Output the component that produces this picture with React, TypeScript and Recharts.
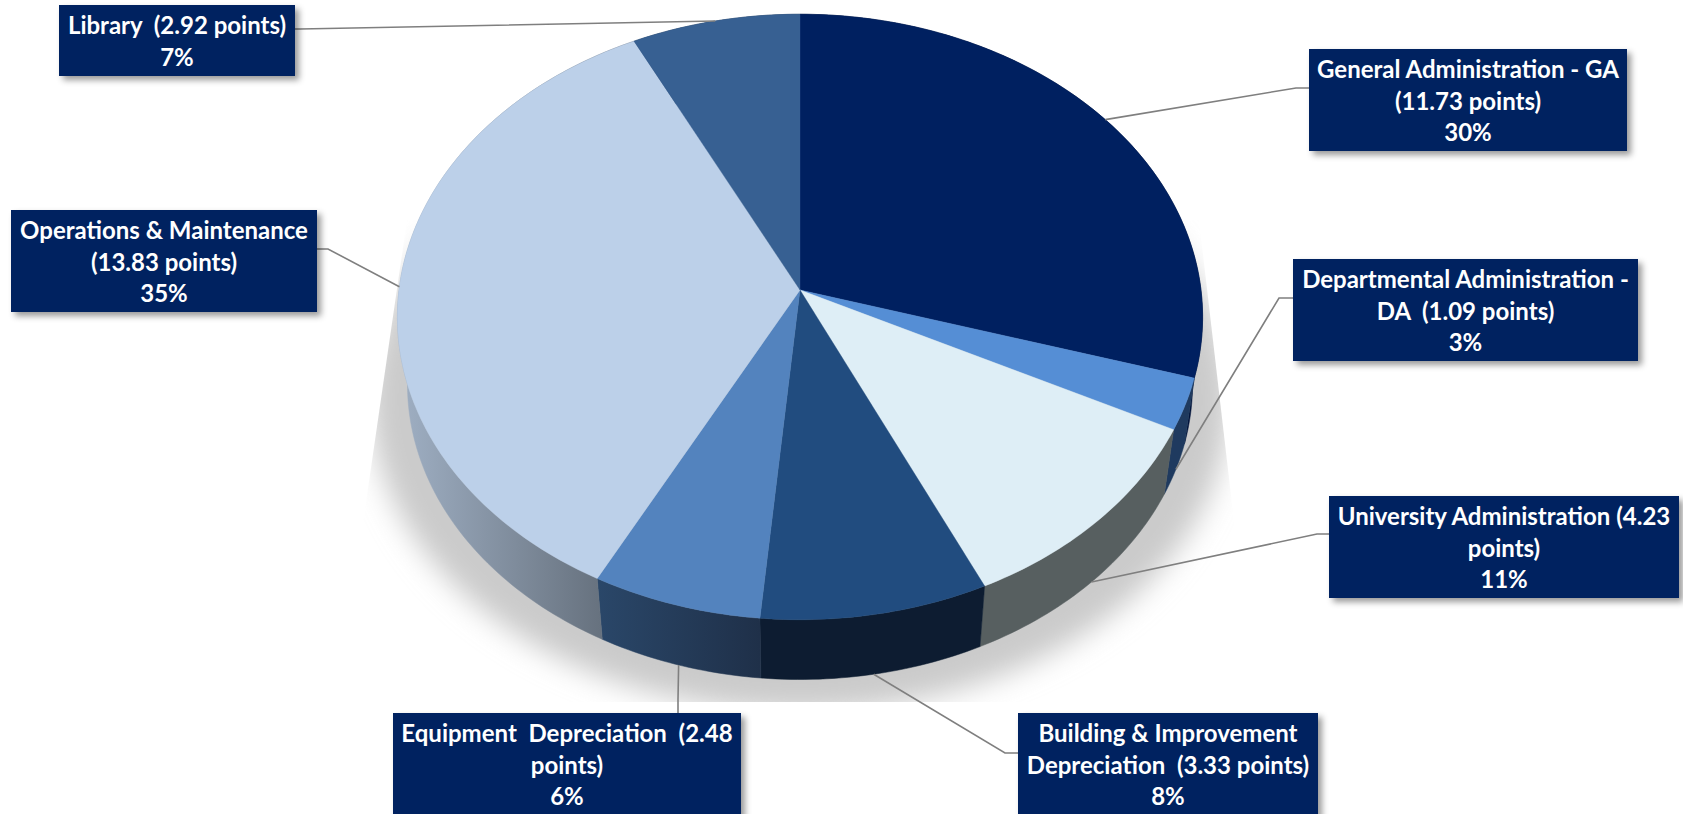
import { Pie, PieChart } from 'recharts'

// values
const names = [
  'General Administration',
  'Departmental Administration',
  'University Administration',
  'Building & Improvement Depreciation',
  'Equipment Depreciation',
  'Operations & Maintenance',
  'Library',
]
const points = [11.73, 1.09, 4.23, 3.33, 2.48, 13.83, 2.92]
const labelLines = [
  ['General Administration - GA', '(11.73 points)', '30%'],
  ['Departmental Administration -', 'DA  (1.09 points)', '3%'],
  ['University Administration (4.23', 'points)', '11%'],
  ['Building & Improvement', 'Depreciation  (3.33 points)', '8%'],
  ['Equipment  Depreciation  (2.48', 'points)', '6%'],
  ['Operations & Maintenance', '(13.83 points)', '35%'],
  ['Library  (2.92 points)', '7%'],
]

const topColors = ['#002060', '#558ed5', '#deeef6', '#214c7f', '#5383be', '#bcd0e9', '#376092']
const wallColors = ['#00133a', '#1f3a5f', '#575f60', '#0d1c31', 'url(#wallEquip)', 'url(#wallOps)', '#213a58']

// left, top, width, height of the label boxes, then the elbow of each leader line
const boxes = [
  [1309, 49, 318, 102],
  [1293, 259, 345, 102],
  [1329, 496, 350, 102],
  [1018, 713, 300, 110],
  [393, 713, 348, 110],
  [11, 210, 306, 102],
  [59, 5, 236, 71],
]
const leaderStarts = [
  [[1309, 88], [1296, 88]],
  [[1293, 298], [1279, 298]],
  [[1329, 534], [1317, 534]],
  [[1018, 753], [1005, 753]],
  [[678, 713], [678, 700]],
  [[317, 249], [328, 249]],
  [[295, 29], [300, 29]],
]

const rows = names.map((name, i) => ({ name, value: points[i] }))

const CX = 800
const CY = 290
const RADIUS = 401
const TILT = 0.749 // vertical squash of the disc
const PERSP = 0.0891 // front of the disc looks bigger than the back
const DEPTH = 68 // how far the bottom face sits under the top one
const BOTTOM_SCALE = 0.975
const RAD = Math.PI / 180

// recharts angle (degrees) to a point on the rim of the tilted disc
function rim(angle: number, r: number, lower: boolean) {
  const u = Math.cos(angle * RAD)
  const s = -Math.sin(angle * RAD)
  const w = 1 - PERSP * s
  const k = lower ? BOTTOM_SCALE : 1
  return {
    x: CX + (k * r * u) / w,
    y: CY + (lower ? DEPTH : 0) + (k * r * TILT * s) / w,
  }
}

function arc(from: number, to: number, r: number, lower: boolean) {
  const steps = Math.max(2, Math.ceil(Math.abs(to - from)))
  const pts = []
  for (let i = 0; i <= steps; i++) {
    const p = rim(from + ((to - from) * i) / steps, r, lower)
    pts.push(`${p.x.toFixed(2)} ${p.y.toFixed(2)}`)
  }
  return pts
}

function TopSlice(props: any) {
  const i = props.index ?? names.indexOf(props.name)
  const pts = arc(props.startAngle, props.endAngle, props.outerRadius, false)
  const d = `M${CX} ${CY} L${pts.join(' L')} Z`
  return <path d={d} fill={topColors[i]} stroke={topColors[i]} strokeWidth={0.4} />
}

function WallSlice(props: any) {
  const i = props.index ?? names.indexOf(props.name)
  const upper = arc(props.startAngle, props.endAngle, props.outerRadius, false)
  const lower = arc(props.endAngle, props.startAngle, props.outerRadius, true)
  return <path d={`M${upper.join(' L')} L${lower.join(' L')} Z`} fill={wallColors[i]} stroke={wallColors[i]} strokeWidth={0.5} />
}

function SliceLabel(props: any) {
  const i = props.index ?? names.indexOf(props.name)
  const [x, y, w, h] = boxes[i]
  const onWall = -Math.sin(props.midAngle * RAD) > 0.1
  const end = rim(props.midAngle, props.outerRadius, onWall)
  const line = [...leaderStarts[i], [end.x, end.y]].map((p) => p.join(',')).join(' ')
  return (
    <g>
      <polyline points={line} fill="none" stroke="#7f7f7f" strokeWidth={1.6} />
      <rect x={x} y={y} width={w} height={h} fill="#002060" filter="url(#boxShadow)" />
      {labelLines[i].map((text, n) => (
        <text
          key={n}
          x={x + w / 2}
          y={y + 29 + n * 31.5}
          textAnchor="middle"
          fill="#fff"
          fontFamily="Lato"
          fontWeight={700}
          fontSize={24}
          style={{ whiteSpace: 'pre' }}
        >
          {text}
        </text>
      ))}
    </g>
  )
}

export default function App() {
  return (
    <div style={{ position: 'absolute', left: 0, top: 0, width: 1683, height: 814, overflow: 'hidden', background: '#fff' }}>
      <PieChart width={1683} height={814} margin={{ top: 0, right: 0, bottom: 0, left: 0 }}>
        <defs>
          <linearGradient id="wallOps" gradientUnits="userSpaceOnUse" x1={400} y1={0} x2={600} y2={0}>
            <stop offset="0%" stopColor="#9fafc3" />
            <stop offset="100%" stopColor="#67727f" />
          </linearGradient>
          <linearGradient id="wallEquip" gradientUnits="userSpaceOnUse" x1={597} y1={0} x2={760} y2={0}>
            <stop offset="0%" stopColor="#2a4769" />
            <stop offset="100%" stopColor="#1f3049" />
          </linearGradient>
          <filter id="boxShadow" x="-10%" y="-10%" width="120%" height="125%">
            <feDropShadow dx={4} dy={4} stdDeviation={3} floodColor="#000" floodOpacity={0.4} />
          </filter>
          <filter id="discBlur" x="-10%" y="-10%" width="120%" height="120%">
            <feGaussianBlur stdDeviation={14} />
          </filter>
          <clipPath id="shadowClip">
            <polygon points="407,220 1199,220 1255,702 337,702" />
          </clipPath>
        </defs>
        <g clipPath="url(#shadowClip)">
          <ellipse cx={800} cy={400} rx={430} ry={312} fill="#cbcbcb" filter="url(#discBlur)" />
        </g>
        <Pie
          data={rows}
          dataKey="value"
          nameKey="name"
          cx={CX}
          cy={CY}
          outerRadius={RADIUS}
          startAngle={90}
          endAngle={-270}
          shape={WallSlice}
          isAnimationActive={false}
          label={false}
          labelLine={false}
        />
        <Pie
          data={rows}
          dataKey="value"
          nameKey="name"
          cx={CX}
          cy={CY}
          outerRadius={RADIUS}
          startAngle={90}
          endAngle={-270}
          shape={TopSlice}
          isAnimationActive={false}
          label={SliceLabel}
          labelLine={false}
        />
      </PieChart>
    </div>
  )
}
